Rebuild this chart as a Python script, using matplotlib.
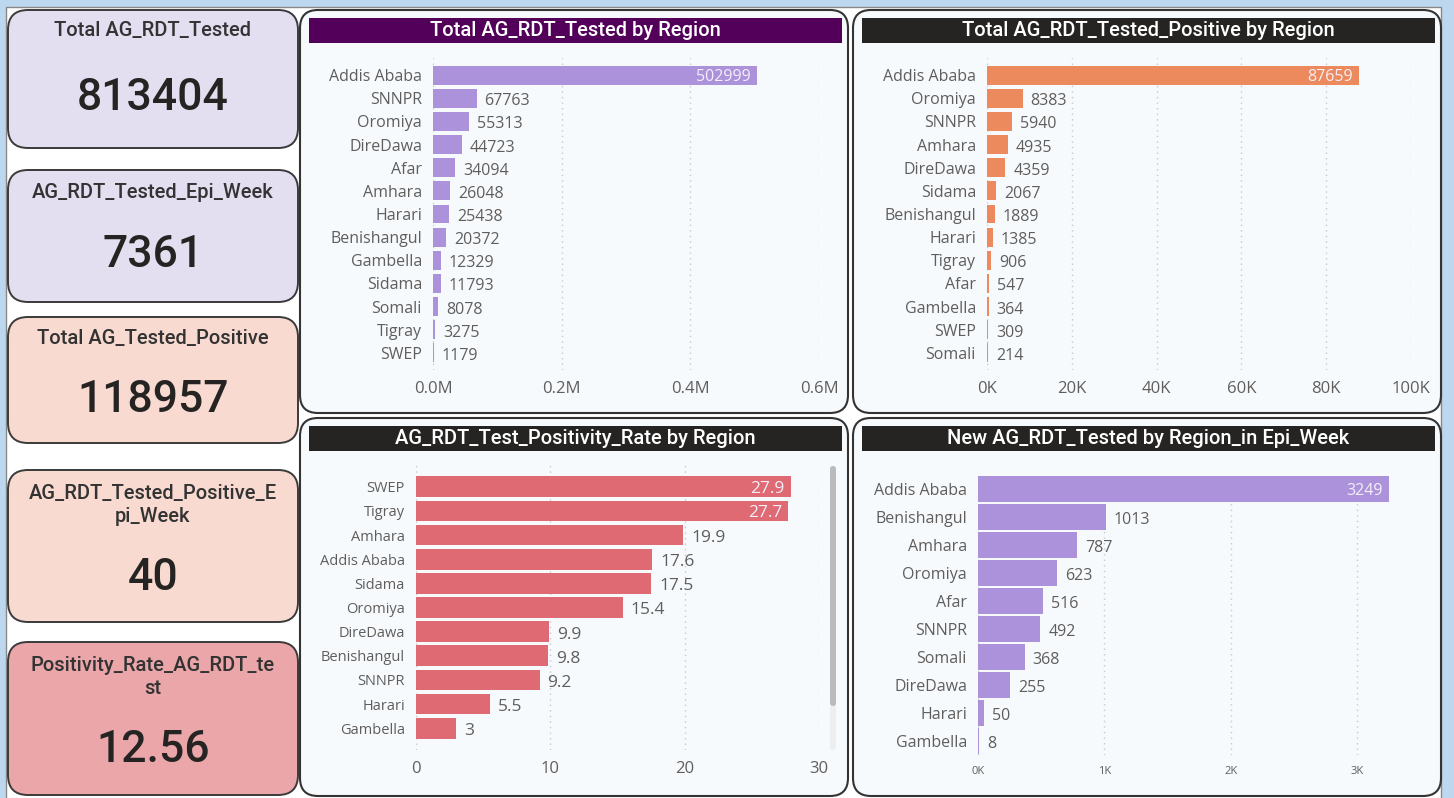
import matplotlib
matplotlib.use("Agg")
import matplotlib.pyplot as plt
from matplotlib.patches import FancyBboxPatch, Rectangle

W, H = 1454, 798

# KPI cards
kpi_titles = ["Total AG_RDT_Tested", "AG_RDT_Tested_Epi_Week", "Total AG_Tested_Positive",
              "AG_RDT_Tested_Positive_E\npi_Week", "Positivity_Rate_AG_RDT_te\nst"]
kpi_values = ["813404", "7361", "118957", "40", "12.56"]

# bar charts
regions_tested = ['Addis Ababa', 'SNNPR', 'Oromiya', 'DireDawa', 'Afar', 'Amhara', 'Harari',
                  'Benishangul', 'Gambella', 'Sidama', 'Somali', 'Tigray', 'SWEP']
tested = [502999, 67763, 55313, 44723, 34094, 26048, 25438, 20372, 12329, 11793, 8078, 3275, 1179]

regions_pos = ['Addis Ababa', 'Oromiya', 'SNNPR', 'Amhara', 'DireDawa', 'Sidama', 'Benishangul',
               'Harari', 'Tigray', 'Afar', 'Gambella', 'SWEP', 'Somali']
positive = [87659, 8383, 5940, 4935, 4359, 2067, 1889, 1385, 906, 547, 364, 309, 214]

regions_rate = ['SWEP', 'Tigray', 'Amhara', 'Addis Ababa', 'Sidama', 'Oromiya', 'DireDawa',
                'Benishangul', 'SNNPR', 'Harari', 'Gambella']
rate = [27.9, 27.7, 19.9, 17.6, 17.5, 15.4, 9.9, 9.8, 9.2, 5.5, 3]

regions_week = ['Addis Ababa', 'Benishangul', 'Amhara', 'Oromiya', 'Afar', 'SNNPR', 'Somali',
                'DireDawa', 'Harari', 'Gambella']
week = [3249, 1013, 787, 623, 516, 492, 368, 255, 50, 8]

TITLE_FONT = ['Roboto', 'DejaVu Sans']
LABEL_FONT = ['Open Sans', 'DejaVu Sans']
GREY = '#605E5C'

fig = plt.figure(figsize=(W / 100, H / 100), dpi=100)
fig.patch.set_facecolor('#BDD7EE')

bg = fig.add_axes([0, 0, 1, 1])
bg.set_xlim(0, W)
bg.set_ylim(H, 0)
bg.axis('off')
bg.add_patch(Rectangle((6, 7), 1435, 795, facecolor='white', edgecolor='#888888', lw=1))


def rbox(x0, y0, x1, y1, fc, r=18, ec='#3a3a3a', lw=1.4):
    bg.add_patch(FancyBboxPatch((x0, y0), x1 - x0, y1 - y0,
                                boxstyle="round,pad=0,rounding_size=%d" % r,
                                facecolor=fc, edgecolor=ec, lw=lw))


# KPI cards: (top, bottom, colour, title y, value y)
cards = [(10, 148, '#E4DEF1', 31, 98),
         (170, 302, '#E4DEF1', 192, 255),
         (317, 443, '#F8DAD0', 339, 400),
         (470, 622, '#F8DAD0', 505, 578),
         (642, 795, '#EBA6AA', 677, 750)]
for (t, b, c, ty, vy), title, val in zip(cards, kpi_titles, kpi_values):
    rbox(8, t, 298, b, c, r=20)
    bg.text(153, ty, title, ha='center', va='center', fontsize=14.5, color='#333333',
            family=TITLE_FONT, weight='medium', linespacing=1.3)
    bg.text(153, vy, val, ha='center', va='center', fontsize=32, color='#252423',
            family=TITLE_FONT, weight='medium')

# panels with title bars
panels = [(300, 10, 848, 413, '#52005A', 'Total AG_RDT_Tested by Region'),
          (853, 10, 1441, 413, '#252423', 'Total AG_RDT_Tested_Positive by Region'),
          (300, 418, 848, 796, '#252423', 'AG_RDT_Test_Positivity_Rate by Region'),
          (853, 418, 1441, 796, '#252423', 'New AG_RDT_Tested by Region_in Epi_Week')]
for x0, y0, x1, y1, tc, title in panels:
    rbox(x0, y0, x1, y1, '#F7FAFD', r=18, ec='#333333', lw=1.5)
    bg.add_patch(Rectangle((x0 + 9, y0 + 8), x1 - x0 - 15, 25, facecolor=tc, edgecolor='none'))
    bg.text((x0 + x1) / 2 + 1, y0 + 21, title, ha='center', va='center', color='white',
            fontsize=14.5, family=TITLE_FONT, weight='medium')

# scrollbar in positivity panel
bg.add_patch(FancyBboxPatch((830, 466), 6, 284, boxstyle="round,pad=0,rounding_size=3",
                            facecolor='#EEEEEE', edgecolor='none'))
bg.add_patch(FancyBboxPatch((830, 466), 6, 240, boxstyle="round,pad=0,rounding_size=3",
                            facecolor='#BBBBBB', edgecolor='none'))


def bar_panel(x0, x1, y0, y1, cats, vals, color, xmax, ticks, ticklabels,
              height, pad, tick_fs=12, cat_fs=11.5, val_fs=11.5):
    ax = fig.add_axes([x0 / W, 1 - y1 / H, (x1 - x0) / W, (y1 - y0) / H])
    ax.set_facecolor('none')
    n = len(cats)
    ax.barh(range(n), vals, height=height, color=color, lw=0, zorder=3)
    ax.set_xlim(0, xmax)
    ax.set_ylim(n - 1 + pad, -pad)
    ax.set_yticks(range(n))
    ax.set_yticklabels(cats, fontsize=cat_fs, color=GREY, family=LABEL_FONT)
    ax.set_xticks(ticks)
    ax.set_xticklabels(ticklabels, fontsize=tick_fs, color=GREY, family=LABEL_FONT)
    ax.tick_params(length=0, axis='y', pad=8)
    ax.tick_params(length=0, axis='x', pad=8)
    for s in ax.spines.values():
        s.set_visible(False)
    ax.grid(axis='x', ls=(0, (1, 3)), color='#C8C8C8', lw=1, zorder=0)
    for i, v in enumerate(vals):
        txt = ('%g' % v) if isinstance(v, float) else str(v)
        if v > 0.8 * xmax:
            ax.annotate(txt, (v, i), xytext=(-6, -2), textcoords='offset pixels',
                        ha='right', va='center', fontsize=val_fs, color='#F4EEF8',
                        family=LABEL_FONT, zorder=4)
        else:
            ax.annotate(txt, (v, i), xytext=(8, -3), textcoords='offset pixels',
                        ha='left', va='center', fontsize=val_fs, color=GREY,
                        family=LABEL_FONT, zorder=4)
    return ax


bar_panel(433, 819, 58, 370, regions_tested, tested, '#AB92DB', 600000,
          [0, 200000, 400000, 600000], ['0.0M', '0.2M', '0.4M', '0.6M'], 0.82, 0.74)
bar_panel(987, 1411, 58, 370, regions_pos, positive, '#EC8A5E', 100000,
          [0, 20000, 40000, 60000, 80000, 100000],
          ['0K', '20K', '40K', '60K', '80K', '100K'], 0.82, 0.74)
bar_panel(416, 819, 465, 750, regions_rate, rate, '#DF6A73', 30,
          [0, 10, 20, 30], ['0', '10', '20', '30'], 0.86, 0.9, cat_fs=10.5, val_fs=12.5)
bar_panel(978, 1395, 475, 755, regions_week, week, '#AB92DB', 3300,
          [0, 1000, 2000, 3000], ['0K', '1K', '2K', '3K'], 0.95, 0.5, tick_fs=8)

fig.savefig('out.png', dpi=100)
